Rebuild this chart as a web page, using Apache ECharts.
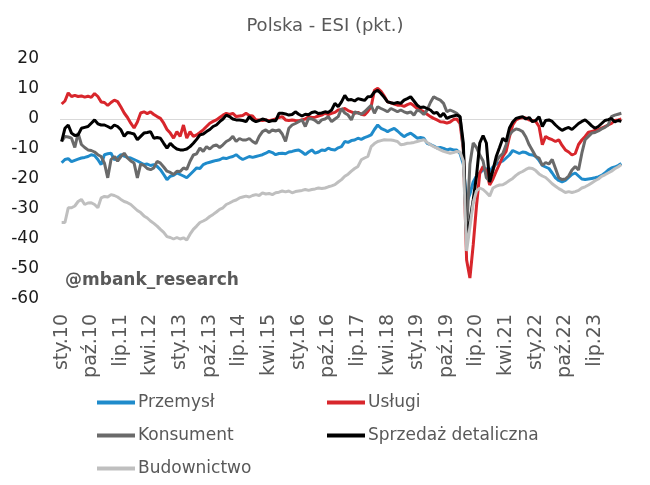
<!DOCTYPE html>
<html>
<head>
<meta charset="utf-8">
<script src="https://cdn.jsdelivr.net/npm/echarts@6/dist/echarts.min.js"></script>
<style>html,body{margin:0;padding:0;background:#fff;}#c{width:650px;height:485px;}</style>
</head>
<body>
<div id="c"></div>
<script>
var monthNames = ['sty','lut','mar','kwi','maj','cze','lip','sie','wrz','paź','lis','gru'];
var years = ['10','11','12','13','14','15','16','17','18','19','20','21','22','23','24'];
var monthCount = 171;

var przemysl = [
-14.6,-13.5,-13.2,-14.2,-13.8,-13.4,-13.0,-12.8,-12.5,-11.9,-12.2,-13.5,
-15.2,-11.9,-11.6,-11.4,-13.6,-12.8,-11.9,-12.4,-12.8,-13.0,-13.5,-14.0,
-14.6,-15.2,-15.0,-15.5,-15.2,-15.8,-16.9,-18.5,-20.2,-19.1,-18.8,-18.0,
-18.5,-19.0,-19.6,-18.5,-17.4,-16.3,-16.5,-15.2,-14.7,-14.4,-14.1,-13.8,
-13.6,-13.0,-13.2,-12.8,-12.5,-11.9,-12.8,-13.5,-13.0,-12.5,-12.8,-12.5,
-12.2,-11.9,-11.4,-10.8,-11.2,-11.9,-11.5,-11.4,-11.6,-11.0,-10.8,-10.5,
-10.3,-11.0,-11.9,-11.0,-10.3,-11.4,-11.0,-10.3,-10.5,-9.7,-10.2,-10.3,
-9.6,-9.2,-7.5,-7.8,-7.2,-7.0,-6.4,-6.8,-6.2,-5.8,-5.3,-3.5,
-2.0,-3.1,-3.6,-4.2,-3.6,-3.1,-4.0,-5.0,-5.9,-5.2,-4.7,-5.5,
-6.4,-6.2,-6.4,-8.1,-8.5,-9.0,-9.7,-9.5,-9.8,-10.3,-10.0,-10.3,
-10.3,-11.5,-15.0,-28.0,-25.0,-21.0,-19.0,-18.0,-17.0,-16.5,-17.5,-16.0,
-15.0,-14.5,-14.0,-13.0,-12.0,-10.5,-11.0,-11.5,-11.0,-11.2,-11.8,-12.0,
-12.5,-13.8,-15.5,-16.0,-16.5,-18.0,-19.6,-20.5,-21.0,-20.5,-19.5,-18.5,
-18.0,-19.0,-20.0,-20.2,-20.0,-19.8,-19.6,-19.3,-18.8,-18.0,-17.0,-16.3,
-16.0,-15.5,-14.8
];

var uslugi = [
5.0,6.0,8.7,7.5,7.9,7.5,7.7,7.3,7.6,7.2,8.5,7.5,
5.7,5.5,4.5,5.5,6.3,5.8,4.0,2.0,0.5,-1.4,-3.0,-1.0,
2.0,2.4,1.8,2.4,1.5,0.8,0.2,-1.4,-3.5,-4.7,-6.4,-4.2,
-5.8,-2.0,-6.4,-4.2,-5.8,-5.3,-4.5,-3.6,-2.5,-1.4,-0.8,-0.3,
0.5,1.3,1.9,1.5,1.9,0.8,1.0,1.2,1.9,1.2,1.0,-0.3,
-0.3,-0.5,-0.3,-0.6,-0.3,0.0,0.5,0.8,-0.3,-0.5,-0.3,-0.5,
-0.6,-0.3,0.0,0.8,0.5,0.6,1.0,1.3,1.9,1.5,1.9,2.2,
3.0,3.2,3.5,2.8,2.4,1.9,2.2,1.6,1.3,2.5,4.1,9.6,
10.2,9.2,7.6,5.7,5.4,5.0,4.6,4.6,4.2,4.8,5.2,4.4,
3.5,3.0,2.4,1.6,0.8,0.2,-0.3,-0.9,-1.0,-1.4,-1.0,-0.2,
0.0,-1.5,-10.0,-47.0,-53.0,-42.0,-29.0,-18.0,-15.8,-17.4,-22.0,-20.0,
-17.4,-15.0,-12.5,-10.8,-6.0,-2.0,-0.3,0.2,0.5,0.3,-0.3,-0.5,
-0.8,-2.5,-8.6,-5.8,-6.5,-6.9,-7.5,-6.9,-8.8,-10.3,-11.0,-12.0,
-11.5,-8.5,-7.0,-5.8,-4.4,-4.2,-3.8,-3.6,-3.0,-2.5,-2.0,-1.5,
-0.5,-0.3,0.0
];

var konsument = [
-7.5,-5.8,-6.0,-6.4,-9.5,-4.7,-8.5,-9.5,-10.3,-10.5,-11.0,-11.9,
-12.5,-14.7,-19.6,-13.5,-12.5,-14.0,-12.5,-11.4,-13.0,-14.0,-14.7,-19.6,
-15.0,-15.5,-16.5,-16.9,-16.3,-14.1,-14.7,-16.0,-17.4,-17.8,-18.5,-17.4,
-17.5,-16.3,-16.8,-14.1,-12.0,-11.6,-9.7,-10.8,-9.2,-10.0,-9.0,-8.6,
-9.5,-8.6,-7.5,-6.9,-5.8,-7.5,-6.5,-7.0,-7.0,-6.5,-7.5,-8.2,
-5.8,-4.2,-3.6,-4.5,-3.6,-4.0,-3.6,-5.0,-7.5,-3.1,-2.0,-1.5,
-0.9,-0.3,-2.5,0.2,0.0,-0.5,-1.4,-0.3,0.0,0.8,-0.9,0.0,
0.8,3.5,2.0,1.3,-0.3,2.4,2.0,1.6,2.4,3.5,4.6,1.9,
4.1,3.5,3.0,2.4,3.5,3.0,2.4,3.0,2.4,2.0,2.4,1.3,
3.0,2.5,1.5,3.0,5.5,7.4,6.8,6.3,5.2,2.4,3.0,2.5,
1.9,0.8,-10.0,-38.0,-15.0,-8.0,-9.5,-12.0,-14.0,-19.6,-20.7,-17.0,
-14.1,-12.5,-11.5,-8.6,-5.3,-4.0,-3.3,-3.6,-4.2,-6.0,-8.6,-10.5,
-12.5,-13.0,-15.5,-14.5,-15.0,-13.5,-16.5,-19.6,-20.2,-20.0,-19.0,-17.0,
-15.8,-17.0,-11.4,-6.9,-5.8,-4.7,-4.5,-4.0,-3.3,-2.8,-2.0,0.8,
1.3,1.6,1.9
];

var sprzedaz = [
-7.5,-3.1,-2.0,-4.7,-5.5,-5.3,-3.1,-2.8,-2.5,-1.4,-0.3,-1.6,
-2.0,-2.0,-2.5,-3.1,-2.0,-2.5,-3.6,-5.8,-4.5,-4.7,-5.0,-6.9,
-5.8,-4.7,-4.5,-4.2,-6.4,-6.2,-6.4,-8.1,-9.7,-8.1,-9.2,-10.0,
-10.3,-10.3,-10.0,-9.2,-8.1,-6.8,-5.3,-5.0,-4.2,-3.5,-2.5,-2.0,
-0.9,0.0,1.3,0.8,0.0,-0.3,-0.3,-0.5,-0.9,0.8,-0.3,-0.9,
-0.5,0.0,-0.3,-0.9,-0.5,-0.6,1.9,1.9,1.7,1.3,1.5,2.4,
1.6,1.0,1.6,1.4,2.2,2.4,1.8,2.0,2.4,2.2,3.0,5.2,
4.1,5.7,7.9,6.3,6.5,6.0,6.8,6.5,6.2,7.4,7.5,9.0,
9.6,8.5,7.2,5.7,5.4,5.2,5.5,5.2,6.3,6.8,7.4,6.0,
4.6,3.8,4.0,3.5,3.0,1.9,2.2,0.8,1.9,0.2,0.7,1.0,
1.3,0.8,-8.0,-40.0,-34.0,-27.0,-19.0,-8.0,-5.5,-8.0,-21.0,-17.0,
-12.5,-9.5,-6.4,-7.5,-3.0,-1.0,0.2,0.5,0.8,0.0,0.5,-0.9,
-0.5,0.8,-2.5,-0.5,-0.3,-0.8,-2.0,-3.0,-3.8,-3.2,-2.8,-3.5,
-2.5,-1.5,-0.8,-0.3,-1.2,-2.3,-3.1,-2.5,-1.5,-0.5,-0.2,0.2,
-1.0,-0.5,-0.8
];

var budownictwo = [
-34.5,-34.5,-29.6,-29.6,-29.0,-27.5,-26.8,-28.5,-28.0,-27.9,-28.5,-29.6,
-26.3,-25.8,-26.0,-25.2,-25.5,-26.0,-26.8,-27.5,-27.9,-28.5,-29.5,-30.5,
-31.2,-32.3,-33.0,-34.0,-34.8,-35.7,-36.8,-37.8,-39.2,-39.5,-40.0,-39.5,
-40.0,-39.6,-40.3,-38.4,-36.8,-35.7,-34.5,-34.0,-33.4,-32.5,-31.8,-31.0,
-30.1,-29.6,-28.5,-28.0,-27.4,-27.0,-26.3,-26.0,-25.7,-26.0,-25.5,-25.2,
-25.5,-24.6,-25.0,-24.8,-25.2,-24.6,-24.4,-24.0,-24.3,-24.0,-24.6,-24.2,
-24.0,-23.8,-23.5,-23.8,-23.5,-23.3,-23.0,-23.2,-23.0,-22.6,-22.3,-21.9,
-21.0,-20.2,-19.1,-18.4,-17.4,-16.5,-15.8,-13.6,-13.0,-12.5,-9.2,-8.2,
-7.5,-7.2,-6.9,-7.0,-7.0,-7.2,-7.5,-8.6,-8.4,-8.1,-8.0,-7.8,
-7.5,-7.2,-6.9,-7.8,-8.6,-9.2,-9.7,-10.3,-10.8,-11.1,-11.4,-11.2,
-10.8,-11.0,-14.0,-44.0,-36.0,-28.0,-24.0,-23.0,-23.5,-24.5,-25.7,-23.0,
-22.4,-22.0,-21.9,-21.3,-20.5,-19.8,-18.8,-18.0,-17.5,-16.8,-16.3,-16.5,
-17.2,-18.3,-19.0,-19.5,-20.5,-21.6,-22.4,-23.2,-23.8,-24.5,-24.2,-24.5,
-24.2,-23.8,-23.0,-22.6,-22.0,-21.3,-20.6,-20.0,-19.1,-18.6,-18.0,-17.4,
-16.6,-16.0,-15.2
];

var yTicks = {min: -60, max: 20, interval: 10};

var categories = [];
for (var k = 0; k < monthCount; k++) {
  categories.push(monthNames[k % 12] + '.' + years[Math.floor(k / 12)]);
}

var FONT = 'DejaVu Sans';
var names = ['Przemysł', 'Usługi', 'Konsument', 'Sprzedaż detaliczna', 'Budownictwo'];
var colors = ['#1F8BCB', '#D8262C', '#6A6A6A', '#000000', '#BFBFBF'];
var datasets = [przemysl, uslugi, konsument, sprzedaz, budownictwo];

var series = datasets.map(function (d, idx) {
  var s = {
    name: names[idx],
    type: 'line',
    data: d,
    symbol: 'none',
    smooth: false,
    lineStyle: {width: 3, color: colors[idx]},
    itemStyle: {color: colors[idx]},
    z: 2 + idx
  };
  if (idx === 0) {
    s.markLine = {
      silent: true,
      symbol: 'none',
      label: {show: false},
      lineStyle: {color: '#D9D9D9', width: 1, type: 'solid'},
      data: [{yAxis: 0}],
      z: 1
    };
  }
  return s;
});

var legendPos = [
  {left: 97, top: 394},
  {left: 327, top: 394},
  {left: 97, top: 427},
  {left: 327, top: 427},
  {left: 97, top: 460}
];
var legends = names.map(function (n, idx) {
  return {
    data: [n],
    left: legendPos[idx].left,
    top: legendPos[idx].top,
    icon: 'rect',
    itemWidth: 38,
    itemHeight: 4,
    itemGap: 0,
    padding: 0,
    selectedMode: false,
    textStyle: {fontFamily: FONT, fontSize: 17, color: '#595959', padding: [0, 0, 0, -2]}
  };
});

var chart = echarts.init(document.getElementById('c'), null, {renderer: 'canvas'});
chart.setOption({
  animation: false,
  backgroundColor: '#ffffff',
  title: {
    text: 'Polska - ESI (pkt.)',
    left: 'center',
    top: 12,
    textStyle: {fontFamily: FONT, fontSize: 18, fontWeight: 'normal', color: '#595959'}
  },
  legend: legends,
  grid: {left: 60, right: 27, top: 59, bottom: 186, containLabel: false},
  xAxis: {
    type: 'category',
    data: categories,
    boundaryGap: true,
    axisLine: {show: false},
    axisTick: {show: false},
    splitLine: {show: false},
    axisLabel: {
      interval: 8,
      rotate: 90,
      margin: 15,
      fontFamily: FONT,
      fontSize: 19,
      color: '#595959'
    }
  },
  yAxis: {
    type: 'value',
    min: yTicks.min,
    max: yTicks.max,
    interval: yTicks.interval,
    axisLine: {show: false},
    axisTick: {show: false},
    splitLine: {show: false},
    axisLabel: {margin: 21, fontFamily: FONT, fontSize: 17, color: '#1a1a1a'}
  },
  graphic: [{
    type: 'text',
    left: 65,
    top: 272,
    z: 100,
    style: {
      text: '@mbank_research',
      font: 'bold 17px "DejaVu Sans"',
      fill: '#595959'
    }
  }],
  series: series
});
</script>
</body>
</html>
